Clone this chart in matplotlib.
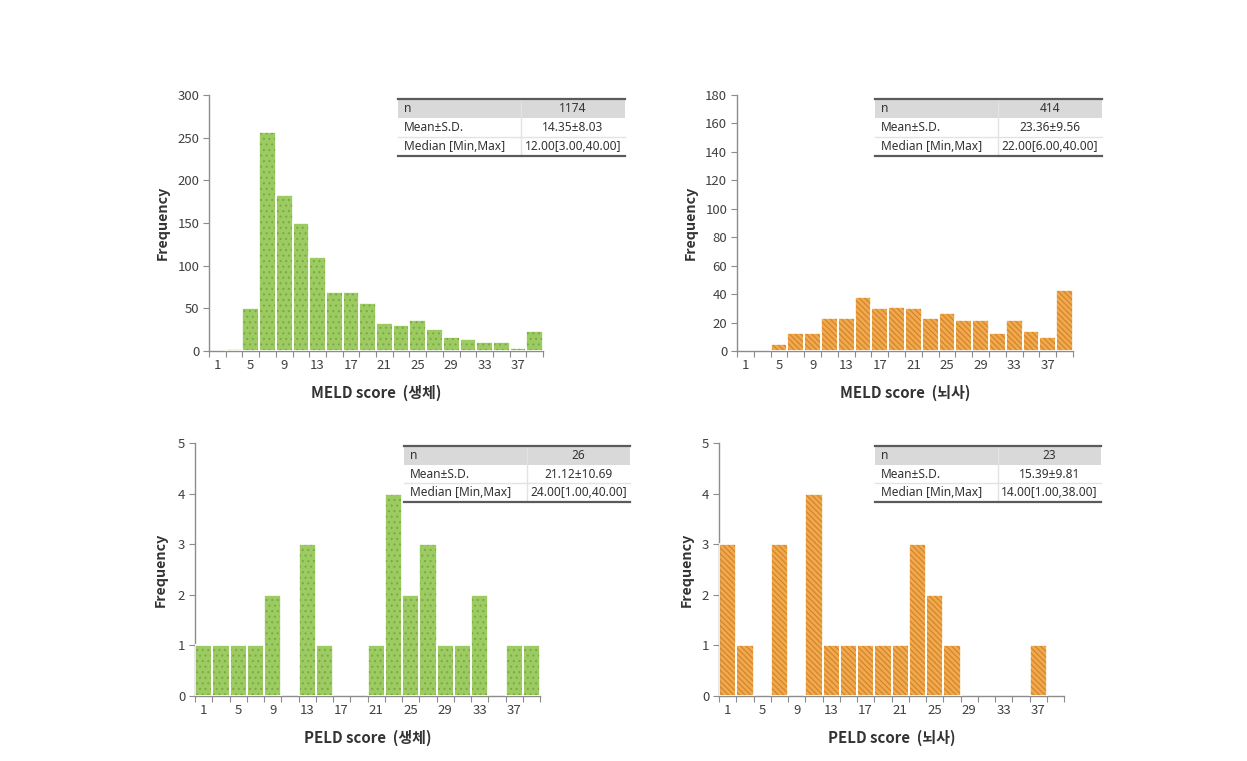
"""MELD / PELD score histograms (living vs deceased donors) with summary tables."""

import matplotlib.pyplot as plt
import numpy as np
from matplotlib.lines import Line2D
from matplotlib.patches import Rectangle

plt.rcParams["font.family"] = ["Noto Sans CJK KR", "DejaVu Sans"]
plt.rcParams["hatch.linewidth"] = 0.8

W, H = 1247, 761

# bin edges 0,2,...,40 (width 2); labels at bin centres 1,5,...,37
BIN_EDGES = np.arange(0, 41, 2)
TICK_LABELS = [1, 5, 9, 13, 17, 21, 25, 29, 33, 37]

meld_living = [0, 2, 50, 257, 183, 150, 110, 69, 69, 56,
               33, 31, 36, 26, 16, 14, 11, 11, 3, 23]
meld_deceased = [0, 0, 5, 13, 13, 23, 23, 38, 30, 31,
                 30, 23, 27, 22, 22, 13, 22, 14, 10, 43]
peld_living = [1, 1, 1, 1, 2, 0, 3, 1, 0, 0,
               1, 4, 2, 3, 1, 1, 2, 0, 1, 1]
peld_deceased = [3, 1, 0, 3, 0, 4, 1, 1, 1, 1,
                 1, 3, 2, 1, 0, 0, 0, 0, 1, 0]

stat_rows = ["n", "Mean±S.D.", "Median [Min,Max]"]
stats_meld_living = ["1174", "14.35±8.03", "12.00[3.00,40.00]"]
stats_meld_deceased = ["414", "23.36±9.56", "22.00[6.00,40.00]"]
stats_peld_living = ["26", "21.12±10.69", "24.00[1.00,40.00]"]
stats_peld_deceased = ["23", "15.39±9.81", "14.00[1.00,38.00]"]

GREEN = ("#9CCB62", "#7DAA45")
ORANGE = ("#F0A94C", "#D28128")

# (left, right, top, bottom) in px, ylabel x px
PANELS = [
    dict(box=(209, 543, 95, 351), ylab=170, counts=meld_living, ymax=300, ystep=50,
         colors=GREEN, hatch="...", xlabel="MELD score  (생체)",
         table=(398, 521, 625, 99, 156), stats=stats_meld_living),
    dict(box=(737, 1073, 95, 351), ylab=698, counts=meld_deceased, ymax=180, ystep=20,
         colors=ORANGE, hatch="\\" * 6, xlabel="MELD score  (뇌사)",
         table=(875, 998, 1102, 99, 156), stats=stats_meld_deceased),
    dict(box=(195, 540, 443, 696), ylab=168, counts=peld_living, ymax=5, ystep=1,
         colors=GREEN, hatch="...", xlabel="PELD score  (생체)",
         table=(404, 527, 630, 446, 502), stats=stats_peld_living),
    dict(box=(719, 1064, 443, 696), ylab=694, counts=peld_deceased, ymax=5, ystep=1,
         colors=ORANGE, hatch="\\" * 6, xlabel="PELD score  (뇌사)",
         table=(875, 998, 1101, 446, 502), stats=stats_peld_deceased),
]

SPINE = "#8C8C8C"
TXT = "#404040"
TABLE_FONT = ["Noto Sans", "DejaVu Sans"]  # narrow ±, unlike the CJK face


def fx(px):
    return px / W


def fy(py):
    return 1 - py / H


def draw_hist(fig, p):
    left, right, top, bottom = p["box"]
    ax = fig.add_axes([fx(left), fy(bottom), (right - left) / W, (bottom - top) / H])
    counts = np.asarray(p["counts"], dtype=float)
    centers = (BIN_EDGES[:-1] + BIN_EDGES[1:]) / 2
    keep = counts > 0
    fill, hcol = p["colors"]
    ax.bar(centers[keep], counts[keep], width=2, color=fill, edgecolor="none", zorder=2)
    ax.bar(centers[keep], counts[keep], width=2, fill=False, hatch=p["hatch"],
           edgecolor=hcol, linewidth=0, zorder=3)
    ax.bar(centers[keep], counts[keep], width=2, fill=False, edgecolor="white",
           linewidth=1.2, zorder=4)

    ax.set_xlim(0, 40)
    ax.set_ylim(0, p["ymax"])
    ax.set_xticks(BIN_EDGES)
    ax.set_xticklabels([])
    ax.set_xticks(TICK_LABELS, minor=True)
    ax.set_xticklabels([str(v) for v in TICK_LABELS], minor=True)
    ax.tick_params(axis="x", which="minor", length=0, pad=6, labelsize=9.5,
                   labelcolor=TXT)
    ax.tick_params(axis="x", which="major", length=4, color=SPINE, direction="out")
    ax.set_yticks(np.arange(0, p["ymax"] + 1e-9, p["ystep"]))
    ax.tick_params(axis="y", length=4, color=SPINE, labelsize=9.5, labelcolor=TXT,
                   pad=3)
    for s in ("top", "right"):
        ax.spines[s].set_visible(False)
    for s in ("left", "bottom"):
        ax.spines[s].set_color(SPINE)
        ax.spines[s].set_linewidth(1.0)

    ax.set_xlabel(p["xlabel"], fontsize=10.8, fontweight="bold", color="#333333")
    ax.xaxis.set_label_coords(0.5, -34 / (bottom - top), transform=ax.transAxes)
    ax.set_ylabel("Frequency", fontsize=10.3, fontweight="bold", color="#333333")
    ax.yaxis.set_label_coords((p["ylab"] - left) / (right - left), 0.5)
    return ax


def draw_table(fig, p):
    left, div, right, top, bottom = p["table"]
    rh = (bottom - top) / 3
    fig.add_artist(Rectangle((fx(left), fy(top + rh)), (right - left) / W, rh / H,
                             transform=fig.transFigure, facecolor="#D9D9D9",
                             edgecolor="none"))
    # column divider and row separators
    fig.add_artist(Line2D([fx(div)] * 2, [fy(top), fy(bottom)], color="#E3E3E3",
                          lw=1, transform=fig.transFigure))
    fig.add_artist(Line2D([fx(left), fx(right)], [fy(top + 2 * rh)] * 2,
                          color="#E3E3E3", lw=1, transform=fig.transFigure))
    for yy in (top, bottom):
        fig.add_artist(Line2D([fx(left), fx(right)], [fy(yy)] * 2, color="#5A5A5A",
                              lw=1.6, transform=fig.transFigure))
    for i, (lab, val) in enumerate(zip(stat_rows, p["stats"])):
        yc = fy(top + rh * (i + 0.5))
        fig.text(fx(left + 6), yc, lab, ha="left", va="center", fontsize=8.6,
                 color="#333333", family=TABLE_FONT)
        fig.text(fx((div + right) / 2), yc, val, ha="center", va="center",
                 fontsize=8.6, color="#333333", family=TABLE_FONT)


def main():
    fig = plt.figure(figsize=(W / 100, H / 100), dpi=100)
    for p in PANELS:
        draw_hist(fig, p)
        draw_table(fig, p)
    fig.savefig("out.png", dpi=100, facecolor="white")
    plt.close(fig)


if __name__ == "__main__":
    main()
